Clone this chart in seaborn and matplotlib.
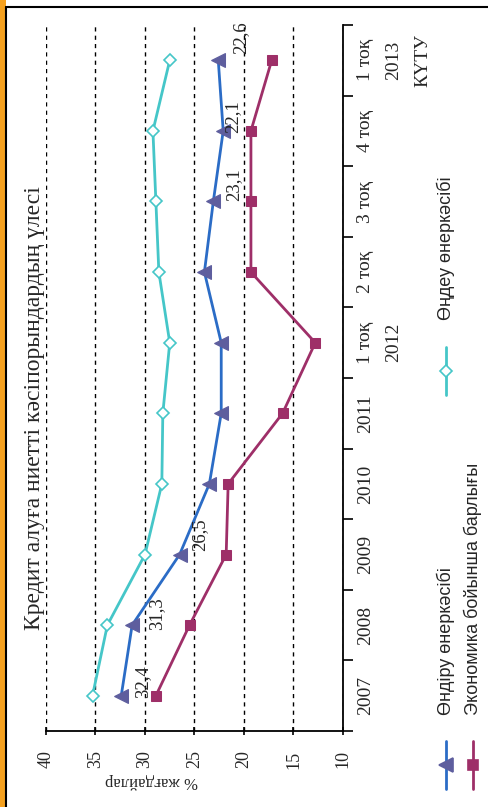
import numpy as np
import matplotlib
matplotlib.use("Agg")
import matplotlib.pyplot as plt
from matplotlib.patches import Rectangle
from matplotlib.lines import Line2D
import seaborn as sns

# Data (chart is drawn turned 90 degrees, like the reference)
periods = ["2007", "2008", "2009", "2010", "2011", "1 тоқ\n2012", "2 тоқ",
           "3 тоқ", "4 тоқ", "1 тоқ\n2013\nКҮТУ"]
ondiru = [32.4, 31.3, 26.5, 23.5, 22.3, 22.3, 24.0, 23.1, 22.1, 22.6]
ondeu = [35.3, 33.8, 30.0, 28.3, 28.2, 27.5, 28.6, 28.9, 29.2, 27.5]
economy = [28.9, 25.5, 21.8, 21.6, 16.1, 12.8, 19.3, 19.3, 19.3, 17.2]
labelled = [0, 1, 2, 7, 8, 9]
value_ticks = [40, 35, 30, 25, 20, 15, 10]

title = "Кредит алуға ниетті кәсіпорындардың үлесі"
ylabel = "% жағдайлар"
names = ["Өндіру өнеркәсібі", "Экономика бойынша барлығы", "Өңдеу өнеркәсібі"]

W, H = 489, 807
serif = ["Liberation Serif", "DejaVu Serif"]
sans = ["Liberation Sans", "DejaVu Sans"]

sns.set_style("white")
fig = plt.figure(figsize=(W / 100, H / 100), dpi=100)


def fx(px):
    return px / W


def fy(py):
    return 1 - py / H


ax = fig.add_axes([fx(46), fy(731), fx(343) - fx(46), fy(25) - fy(731)])
pos = np.arange(len(periods)) + 0.5

sns.lineplot(x=ondeu, y=pos, sort=False, estimator=None, ax=ax, color="#45C6C8",
             lw=2, marker="D", markersize=6, markerfacecolor="white",
             markeredgecolor="#45C6C8", markeredgewidth=1.2)
sns.lineplot(x=ondiru, y=pos, sort=False, estimator=None, ax=ax, color="#2B6CC6",
             lw=2, marker="<", markersize=10, markerfacecolor="#5E5E9E",
             markeredgecolor="#5E5E9E")
sns.lineplot(x=economy, y=pos, sort=False, estimator=None, ax=ax, color="#9E2F68",
             lw=2, marker="s", markersize=7.5, markerfacecolor="#9E2F68",
             markeredgecolor="#9E2F68")

offsets = [(21, 14), (25, 11), (20, 20), (20, 17), (10, 14), (22, 23)]
for i, off in zip(labelled, offsets):
    ax.annotate(f"{ondiru[i]:.1f}".replace(".", ","), xy=(ondiru[i], pos[i]),
                xytext=off, textcoords="offset pixels", rotation=90,
                ha="center", va="center", fontsize=13.5, family=serif)

ax.set_xlim(40, 10)
ax.set_ylim(0, len(periods))
ax.set_xticks(value_ticks)
ax.set_xticklabels([str(v) for v in value_ticks], rotation=90, fontsize=13,
                   family=serif)
ax.grid(axis="x", color="black", ls=(0, (3, 3)), lw=1)
ax.grid(axis="y", visible=False)

ax.yaxis.tick_right()
ax.set_yticks(np.arange(len(periods) + 1))
ax.set_yticklabels([])
ax.set_yticks(pos, minor=True)
ax.set_yticklabels(periods, minor=True, fontsize=14, family=serif)
for t in ax.get_yticklabels(minor=True):
    t.set_rotation(90)
    t.set_va("center")
    t.set_multialignment("center")
    t.set_linespacing(1.9)
ax.tick_params(axis="y", which="major", direction="out", length=7, width=1.2,
               color="black", left=False, right=True)
ax.tick_params(axis="y", which="minor", length=0, pad=10, left=False, right=True)
ax.tick_params(axis="x", direction="inout", length=6, width=1.2, color="black",
               bottom=True, pad=11)

for side in ["top", "left"]:
    ax.spines[side].set_visible(False)
for side in ["bottom", "right"]:
    ax.spines[side].set_color("black")
    ax.spines[side].set_linewidth(1.3)
ax.patch.set_alpha(0)

fig.text(fx(35), fy(408), title, rotation=90, ha="center", va="center",
         fontsize=17, family=serif)
fig.text(fx(152), fy(781), ylabel, rotation=180, ha="center", va="center",
         fontsize=12, family=serif)

# manual legend, turned like the chart
legend = [
    (names[0], "#2B6CC6", "<", "#5E5E9E", "#5E5E9E", 10, 446, 765, 715),
    (names[1], "#9E2F68", "s", "#9E2F68", "#9E2F68", 7.5, 473, 765, 715),
    (names[2], "#45C6C8", "D", "white", "#45C6C8", 6, 446, 371, 320),
]
for name, col, mk, fc, ec, ms, x, ymid, ytext in legend:
    fig.add_artist(Line2D([fx(x), fx(x)], [fy(ymid + 24), fy(ymid - 24)],
                          color=col, lw=2))
    fig.add_artist(Line2D([fx(x)], [fy(ymid)], marker=mk, markersize=ms,
                          markerfacecolor=fc, markeredgecolor=ec,
                          markeredgewidth=1.2, lw=0))
    fig.text(fx(x), fy(ytext), name, rotation=90, ha="center", va="bottom",
             fontsize=13, family=sans)

# page decoration
fig.add_artist(Rectangle((0, 0), fx(5.5), 1, color="#F5A11F", lw=0))
fig.add_artist(Line2D([fx(6.5), fx(6.5)], [0, fy(6.5)], color="black", lw=1.5))
fig.add_artist(Line2D([fx(6.5), 1], [fy(6.5), fy(6.5)], color="black", lw=1.5))

fig.savefig("out.png", dpi=100)
